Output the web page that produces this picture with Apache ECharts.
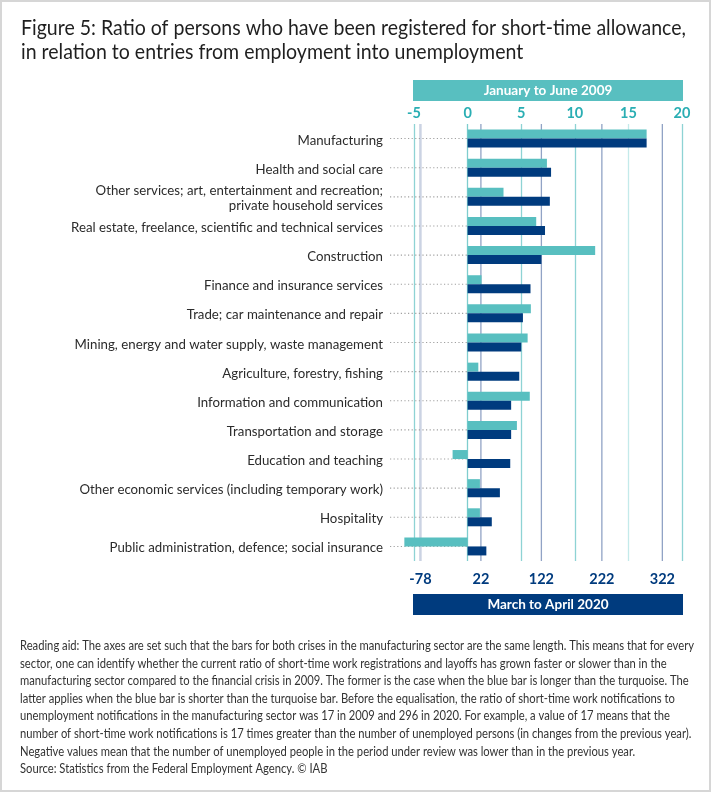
<!DOCTYPE html>
<html><head><meta charset="utf-8">
<script src="https://cdn.jsdelivr.net/npm/echarts@6/dist/echarts.min.js"></script>
<style>html,body{margin:0;padding:0;background:#fff}#c{width:711px;height:792px}</style>
</head><body><div id="c"></div>
<script>
// ---------- data ----------
const categories = [
  'Manufacturing',
  'Health and social care',
  'Other services; art, entertainment and recreation;\nprivate household services',
  'Real estate, freelance, scientific and technical services',
  'Construction',
  'Finance and insurance services',
  'Trade; car maintenance and repair',
  'Mining, energy and water supply, waste management',
  'Agriculture, forestry, fishing',
  'Information and communication',
  'Transportation and storage',
  'Education and teaching',
  'Other economic services (including temporary work)',
  'Hospitality',
  'Public administration, defence; social insurance'
];
const values2009 = [16.7, 7.4, 3.35, 6.4, 11.9, 1.3, 5.9, 5.6, 1.0, 5.8, 4.6, -1.4, 1.15, 1.15, -5.9];
const values2020 = [296, 138, 136, 128, 122, 104, 91.5, 88.7, 85.4, 72, 72, 70.5, 53.4, 40, 31];
const ticks2009 = [-5, 0, 5, 10, 15, 20];
const ticks2020 = [-78, 22, 122, 222, 322];
const band2009 = 'January to June 2009';
const band2020 = 'March to April 2020';
const titleLines = [
  'Figure 5: Ratio of persons who have been registered for short-time allowance,',
  'in relation to entries from employment into unemployment'
];
const noteLines = [
  'Reading aid: The axes are set such that the bars for both crises in the manufacturing sector are the same length. This means that for every',
  'sector, one can identify whether the current ratio of short-time work registrations and layoffs has grown faster or slower than in the',
  'manufacturing sector compared to the financial crisis in 2009. The former is the case when the blue bar is longer than the turquoise. The',
  'latter applies when the blue bar is shorter than the turquoise bar. Before the equalisation, the ratio of short-time work notifications to',
  'unemployment notifications in the manufacturing sector was 17 in 2009 and 296 in 2020. For example, a value of 17 means that the',
  'number of short-time work notifications is 17 times greater than the number of unemployed persons (in changes from the previous year).',
  'Negative values mean that the number of unemployed people in the period under review was lower than in the previous year.',
  'Source: Statistics from the Federal Employment Agency. \u00A9 IAB'
];

// ---------- layout / style ----------
const FONT = 'Lato, "Noto Sans", sans-serif';
const TURQ = '#58bfc0';
const BLUE = '#003b7e';
const W = 711, H = 792;
const gridLeft = 414, gridRight = 29, gridTop = 124, gridBottom = 231;
const gridW = W - gridLeft - gridRight;

const cv = document.createElement('canvas').getContext('2d');
function measure(text, size, weight) {
  cv.font = (weight || 'normal') + ' ' + size + 'px ' + FONT;
  return cv.measureText(text).width;
}
const titleSize = 21;
const titleScale = 665 / measure(titleLines[0], titleSize);
const noteSize = 12.5;
const noteScale = 674 / measure(noteLines[0], noteSize);
const yLabelSize = 14;
const yLabelScale = 312 / measure('Real estate, freelance, scientific and technical services', yLabelSize);

// axis scaling: manufacturing bars have equal length on both axes
const ratio = values2020[0] / values2009[0];
const min2009 = ticks2009[0], max2009 = ticks2009[ticks2009.length - 1];
const min2020 = min2009 * ratio, max2020 = max2009 * ratio;

const graphic = [
  { type: 'rect', silent: true, shape: { x: 1, y: 1, width: W - 2, height: H - 2 },
    style: { fill: 'none', stroke: '#d6d6d6', lineWidth: 2 } },
  { type: 'rect', silent: true, shape: { x: gridLeft - 1, y: 80, width: gridW + 2, height: 21 }, style: { fill: TURQ } },
  { type: 'text', silent: true, x: gridLeft + gridW / 2, y: 91,
    style: { text: band2009, fill: '#fff', fontSize: 13.5, fontWeight: 'bold', fontFamily: FONT, align: 'center', verticalAlign: 'middle' } },
  { type: 'rect', silent: true, shape: { x: gridLeft - 1, y: 594, width: gridW + 2, height: 21 }, style: { fill: BLUE } },
  { type: 'text', silent: true, x: gridLeft + gridW / 2, y: 605,
    style: { text: band2020, fill: '#fff', fontSize: 13.5, fontWeight: 'bold', fontFamily: FONT, align: 'center', verticalAlign: 'middle' } }
];
titleLines.forEach((t, i) => graphic.push({
  type: 'text', silent: true, x: 21, y: 28 + i * 24, scaleX: titleScale,
  style: { text: t, fill: '#1f1f1f', fontSize: titleSize, fontFamily: FONT, verticalAlign: 'middle' }
}));
noteLines.forEach((t, i) => graphic.push({
  type: 'text', silent: true, x: 20, y: 646 + i * 17.6, scaleX: noteScale,
  style: { text: t, fill: '#333', fontSize: noteSize, fontFamily: FONT, verticalAlign: 'middle' }
}));

const chart = echarts.init(document.getElementById('c'), null, { renderer: 'canvas' });
chart.setOption({
  animation: false,
  backgroundColor: '#fff',
  graphic: graphic,
  grid: { left: gridLeft, right: gridRight, top: gridTop, bottom: gridBottom, containLabel: false },
  xAxis: [
    { type: 'value', position: 'top', min: min2009, max: max2009, interval: 5,
      axisLine: { show: false }, axisTick: { show: false },
      axisLabel: { color: '#2aaeb3', fontSize: 14.5, fontWeight: 'bold', fontFamily: FONT, margin: 3 },
      splitLine: { show: true, lineStyle: { color: ['#8ed3d4', '#7fcdce', '#8ed3d4', '#8ed3d4', '#c4eaea', '#8ed3d4'], width: 1.3 } } },
    { type: 'value', position: 'bottom', min: min2020, max: max2020,
      axisLine: { show: false },
      axisTick: { show: false, customValues: ticks2020 },
      axisLabel: { color: BLUE, fontSize: 14.5, fontWeight: 'bold', fontFamily: FONT, margin: 11, customValues: ticks2020 },
      splitLine: { show: false } }
  ],
  yAxis: {
    type: 'category', data: categories, inverse: true,
    axisLine: { show: false }, axisTick: { show: false },
    axisLabel: { show: false }
  },
  series: [
    { type: 'custom', name: 'grid2020', xAxisIndex: 1, yAxisIndex: 0, z: 0, silent: true, clip: false,
      data: ticks2020.map(v => [v, 0]),
      renderItem: function (params, api) {
        const x = api.coord([api.value(0), 0])[0];
        const cs = params.coordSys;
        const first = params.dataIndex === 0;
        return { type: 'line', shape: { x1: x, y1: cs.y, x2: x, y2: cs.y + cs.height },
          style: { stroke: first ? '#cbd3e3' : '#91a3c5', lineWidth: first ? 2.5 : 1.3 } };
      } },
    { type: 'custom', name: 'labels', xAxisIndex: 0, yAxisIndex: 0, z: 1, silent: true, clip: false,
      data: categories.map((c, i) => [0, i]),
      renderItem: function (params, api) {
        const p = api.coord([api.value(0), api.value(1)]);
        const cs = params.coordSys;
        return { type: 'group', children: [
          { type: 'line', shape: { x1: cs.x - 24, y1: p[1], x2: p[0], y2: p[1] },
            style: { stroke: '#a0a0a0', lineWidth: 1.1, lineDash: [1.2, 2.4] } },
          { type: 'text', x: cs.x - 31, y: p[1] + 1.5, scaleX: yLabelScale,
            style: { text: categories[params.dataIndex], fill: '#2b2b2b', fontSize: yLabelSize, fontFamily: FONT,
                     lineHeight: 15, align: 'right', verticalAlign: 'middle' } }
        ] };
      } },
    { type: 'bar', name: band2009, xAxisIndex: 0, yAxisIndex: 0, data: values2009, barWidth: 9, barGap: '0%',
      clip: false, z: 3, itemStyle: { color: TURQ } },
    { type: 'bar', name: band2020, xAxisIndex: 1, yAxisIndex: 0, data: values2020, barWidth: 9, barGap: '0%',
      clip: false, z: 3, itemStyle: { color: BLUE } }
  ]
});
</script>
</body></html>
